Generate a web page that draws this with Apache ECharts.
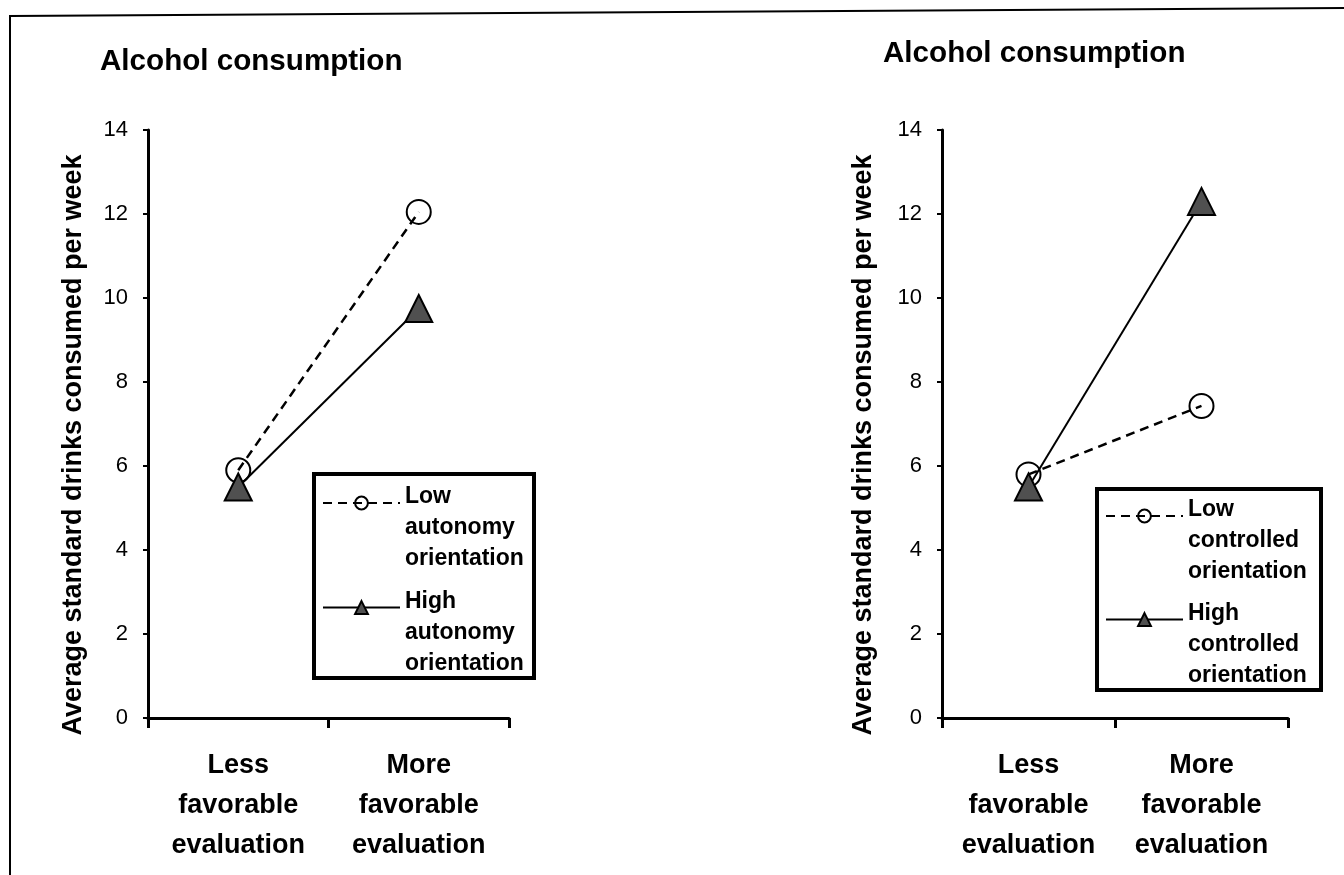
<!DOCTYPE html>
<html>
<head>
<meta charset="utf-8">
<script src="https://cdn.jsdelivr.net/npm/echarts@6/dist/echarts.min.js"></script>
<style>
html,body{margin:0;padding:0;background:#fff;}
#c{width:1344px;height:875px;}
</style>
</head>
<body>
<div id="c"></div>
<script>
// ---- data ----
const categories = ['Less favorable evaluation', 'More favorable evaluation'];
const yMin = 0, yMax = 14, yInterval = 2;
const titleText = 'Alcohol consumption';
const yAxisName = 'Average standard drinks consumed per week';
const leftSeriesNames = ['Low autonomy orientation', 'High autonomy orientation'];
const rightSeriesNames = ['Low controlled orientation', 'High controlled orientation'];
const lowAutonomy = [5.9, 12.05];
const highAutonomy = [5.5, 9.75];
const lowControlled = [5.8, 7.43];
const highControlled = [5.5, 12.3];

const FONT = '"Liberation Sans", Arial, Helvetica, sans-serif';

function xAxisOf(gi) {
  return {
    type: 'category', gridIndex: gi, data: categories, boundaryGap: true,
    axisLine: { show: true, lineStyle: { color: '#000', width: 3 } },
    axisTick: { show: true, length: 10, lineStyle: { color: '#000', width: 3 } },
    axisLabel: {
      interval: 0, hideOverlap: false,
      margin: 28, color: '#000', fontFamily: FONT, fontSize: 27, fontWeight: 'bold', lineHeight: 40,
      formatter: v => v.split(' ').join('\n')
    },
    splitLine: { show: false }
  };
}
function yAxisOf(gi, gap) {
  return {
    type: 'value', gridIndex: gi, min: yMin, max: yMax, interval: yInterval,
    name: yAxisName, nameLocation: 'middle', nameGap: gap, nameRotate: 90,
    nameTextStyle: { color: '#000', fontFamily: FONT, fontSize: 27, fontWeight: 'bold', padding: [0, 42, 0, 0] },
    axisLine: { show: true, lineStyle: { color: '#000', width: 3 } },
    axisTick: { show: true, length: 5, lineStyle: { color: '#000', width: 2 } },
    axisLabel: { margin: 20, color: '#000', fontFamily: FONT, fontSize: 22 },
    splitLine: { show: false }
  };
}
function lowSeries(name, data, gi) {
  return {
    name, type: 'line', xAxisIndex: gi, yAxisIndex: gi, data,
    symbol: 'circle', symbolSize: 24,
    lineStyle: { color: '#000', width: 2.5, type: [9, 6] },
    itemStyle: { color: 'rgba(255,255,255,0)', borderColor: '#000', borderWidth: 2 },
    emphasis: { disabled: true }, z: 2
  };
}
function highSeries(name, data, gi) {
  return {
    name, type: 'line', xAxisIndex: gi, yAxisIndex: gi, data,
    symbol: 'triangle', symbolSize: [27, 27],
    lineStyle: { color: '#000', width: 2, type: 'solid' },
    itemStyle: { color: '#505050', borderColor: '#000', borderWidth: 2 },
    emphasis: { disabled: true }, z: 3
  };
}
// legend: two short leading blank lines put the first text line just above the icon
function legendOf(names, left, top, gap) {
  return {
    data: names, orient: 'vertical', left, top, padding: 0, itemGap: gap,
    itemWidth: 77, itemHeight: 16, selectedMode: false,
    formatter: n => '{b| }\n{b| }\n' + n.split(' ').map(w => '{t|' + w + '}').join('\n'),
    textStyle: {
      color: '#000', fontFamily: FONT, fontSize: 23, fontWeight: 'bold',
      rich: {
        b: { fontSize: 10, lineHeight: 25 },
        t: { color: '#000', fontFamily: FONT, fontSize: 23, fontWeight: 'bold', lineHeight: 31 }
      }
    },
    z: 5
  };
}

const chart = echarts.init(document.getElementById('c'), null, { renderer: 'canvas' });
chart.setOption({
  animation: false,
  backgroundColor: '#fff',
  title: [
    { text: titleText, left: 100, top: 47, padding: 0, textStyle: { color: '#000', fontFamily: FONT, fontSize: 29.6, fontWeight: 'bold' } },
    { text: titleText, left: 883, top: 39, padding: 0, textStyle: { color: '#000', fontFamily: FONT, fontSize: 29.6, fontWeight: 'bold' } }
  ],
  grid: [
    { left: 148, right: 1344 - 509, top: 130, bottom: 875 - 718 },
    { left: 942, right: 1344 - 1288, top: 130, bottom: 875 - 718 }
  ],
  xAxis: [xAxisOf(0), xAxisOf(1)],
  yAxis: [yAxisOf(0, 61), yAxisOf(1, 65)],
  legend: [
    legendOf(leftSeriesNames, 322, 439, -27),
    legendOf(rightSeriesNames, 1105, 452, -28)
  ],
  graphic: [
    { type: 'polyline', silent: true, z: 1, shape: { points: [[10, 875], [10, 16], [1344, 8]] }, style: { stroke: '#000', lineWidth: 2, fill: null } },
    { type: 'rect', silent: true, z: 4, shape: { x: 314, y: 474, width: 220, height: 204 }, style: { stroke: '#000', lineWidth: 4, fill: '#fff' } },
    { type: 'rect', silent: true, z: 4, shape: { x: 1097, y: 489, width: 224, height: 201 }, style: { stroke: '#000', lineWidth: 4, fill: '#fff' } }
  ],
  series: [
    lowSeries(leftSeriesNames[0], lowAutonomy, 0),
    highSeries(leftSeriesNames[1], highAutonomy, 0),
    lowSeries(rightSeriesNames[0], lowControlled, 1),
    highSeries(rightSeriesNames[1], highControlled, 1)
  ]
});
</script>
</body>
</html>
